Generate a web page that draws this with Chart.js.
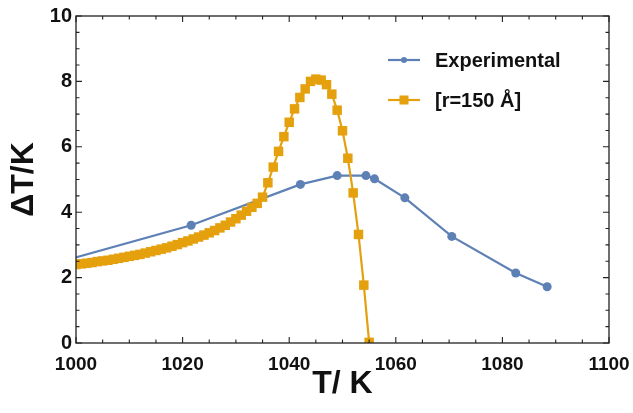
<!DOCTYPE html>
<html>
<head>
<meta charset="utf-8">
<script src="https://cdn.jsdelivr.net/npm/chart.js@4.4.0/dist/chart.umd.min.js"></script>
<style>
  html, body { margin: 0; padding: 0; background: #fff; }
  #wrap { width: 633px; height: 413px; }
</style>
</head>
<body>
<div id="wrap"><canvas id="chartDeltaT" width="633" height="413"></canvas></div>
<script>
// measured points (T in K, deltaT in K)
const expT = [995, 1021.6, 1042.1, 1049.0, 1054.4, 1056.0, 1061.7, 1070.5, 1082.5, 1088.4];
const expDT = [2.39, 3.60, 4.85, 5.12, 5.12, 5.02, 4.44, 3.26, 2.14, 1.72];

// model curve, r = 150 A
const modelT = [1000, 1001, 1002, 1003, 1004, 1005, 1006, 1007, 1008, 1009,
    1010, 1011, 1012, 1013, 1014, 1015, 1016, 1017, 1018, 1019,
    1020, 1021, 1022, 1023, 1024, 1025, 1026, 1027, 1028, 1029,
    1030, 1031, 1032, 1033, 1034, 1035, 1036, 1037, 1038, 1039,
    1040, 1041, 1042, 1043, 1044, 1045, 1046, 1047, 1048, 1049,
    1050, 1051, 1052, 1053, 1054, 1055];
const modelDT = [2.40, 2.42, 2.44, 2.46, 2.49, 2.51, 2.53, 2.56, 2.59, 2.62,
    2.65, 2.68, 2.71, 2.75, 2.79, 2.83, 2.87, 2.91, 2.96, 3.01,
    3.07, 3.12, 3.18, 3.24, 3.30, 3.37, 3.44, 3.52, 3.60, 3.70,
    3.80, 3.91, 4.03, 4.15, 4.27, 4.46, 4.90, 5.38, 5.86, 6.31,
    6.75, 7.16, 7.51, 7.77, 8.00, 8.07, 8.04, 7.90, 7.61, 7.12,
    6.49, 5.65, 4.59, 3.32, 1.77, 0.02];

const seriesNames = ['Experimental', '[r=150 Å]'];
const xTitle = 'T/ K';
const yTitle = 'ΔT/K';

const blue = 'rgb(94,129,181)';
const orange = 'rgb(229,160,13)';
const fontFam = '"Liberation Sans", Arial, sans-serif';

function toPoints(xs, ys) {
    let pts = [];
    for (let i = 0; i < xs.length; i++) {
        pts.push({ x: xs[i], y: ys[i] });
    }
    return pts;
}

// frame, inward ticks on all four sides, and the legend inside the plot
const framePlugin = {
    id: 'frame',
    afterDraw(chart) {
        const ctx = chart.ctx;
        const a = chart.chartArea;
        const xs = chart.scales.x;
        const ys = chart.scales.y;
        ctx.save();
        ctx.strokeStyle = '#222';
        ctx.lineWidth = 1.3;
        ctx.strokeRect(a.left, a.top, a.right - a.left, a.bottom - a.top);

        ctx.lineWidth = 1.1;
        ctx.beginPath();
        xs.ticks.forEach(t => {
            const px = xs.getPixelForValue(t.value);
            const len = t.value % 20 === 0 ? 6 : 3.5;
            ctx.moveTo(px, a.bottom); ctx.lineTo(px, a.bottom - len);
            ctx.moveTo(px, a.top); ctx.lineTo(px, a.top + len);
        });
        ys.ticks.forEach(t => {
            const py = ys.getPixelForValue(t.value);
            const len = Math.abs(t.value % 2) < 1e-9 ? 6 : 3.5;
            ctx.moveTo(a.left, py); ctx.lineTo(a.left + len, py);
            ctx.moveTo(a.right, py); ctx.lineTo(a.right - len, py);
        });
        ctx.stroke();

        // legend
        const lx = 388, ly = 60, gap = 40;
        chart.data.datasets.forEach((ds, i) => {
            const y = ly + i * gap;
            ctx.strokeStyle = ds.borderColor;
            ctx.lineWidth = ds.borderWidth;
            ctx.beginPath();
            ctx.moveTo(lx, y); ctx.lineTo(lx + 32, y);
            ctx.stroke();
            ctx.fillStyle = ds.backgroundColor;
            if (ds.pointStyle === 'rect') {
                ctx.fillRect(lx + 16 - 4.5, y - 4.5, 9, 9);
            } else {
                ctx.beginPath();
                ctx.arc(lx + 16, y, 3, 0, Math.PI * 2);
                ctx.fill();
            }
            ctx.fillStyle = '#111';
            ctx.font = 'bold 20px ' + fontFam;
            ctx.textAlign = 'left';
            ctx.textBaseline = 'middle';
            ctx.fillText(ds.label, lx + 47, y + 1);
        });
        ctx.restore();
    }
};

function initChart() {
    let canvas = document.getElementById('chartDeltaT');
    new Chart(canvas, {
        type: 'scatter',
        data: {
            datasets: [
                {
                    label: seriesNames[0],
                    data: toPoints(expT, expDT),
                    showLine: true,
                    borderColor: blue,
                    backgroundColor: blue,
                    borderWidth: 2.2,
                    pointStyle: 'circle',
                    pointRadius: 4.5,
                    pointBorderWidth: 0,
                    clip: 0,
                    order: 1
                },
                {
                    label: seriesNames[1],
                    data: toPoints(modelT, modelDT),
                    showLine: true,
                    borderColor: orange,
                    backgroundColor: orange,
                    borderWidth: 2.2,
                    pointStyle: 'rect',
                    pointRadius: 6.7,
                    pointBorderWidth: 0,
                    clip: 0,
                    order: 0
                }
            ]
        },
        options: {
            responsive: false,
            animation: false,
            layout: { padding: { top: 15, right: 24, left: 0, bottom: 0 } },
            plugins: {
                legend: { display: false },
                tooltip: { enabled: false }
            },
            scales: {
                x: {
                    type: 'linear',
                    min: 1000,
                    max: 1100,
                    grid: { display: false, drawTicks: false },
                    border: { display: false },
                    afterFit: s => {
                        s.height = 70;
                        s.paddingLeft = 0;
                        s.paddingRight = 0;
                    },
                    ticks: {
                        stepSize: 5,
                        autoSkip: false,
                        maxRotation: 0,
                        padding: 10,
                        color: '#111',
                        font: { family: fontFam, size: 19, weight: 'bold' },
                        callback: v => (v % 20 === 0 ? String(v) : '')
                    },
                    title: {
                        display: true,
                        text: xTitle,
                        color: '#111',
                        font: { family: fontFam, size: 32, weight: 'bold', lineHeight: 1 },
                        padding: { top: 0, bottom: 13 }
                    }
                },
                y: {
                    min: 0,
                    max: 10,
                    grid: { display: false, drawTicks: false },
                    border: { display: false },
                    afterFit: s => { s.width = 76; },
                    ticks: {
                        stepSize: 0.5,
                        autoSkip: false,
                        padding: 4,
                        color: '#111',
                        font: { family: fontFam, size: 20, weight: 'bold' },
                        callback: v => (Math.abs(v % 2) < 1e-9 ? String(v) : '')
                    },
                    title: {
                        display: true,
                        text: yTitle,
                        color: '#111',
                        font: { family: fontFam, size: 32, weight: 'bold', lineHeight: 1 },
                        padding: { top: 8, bottom: 0 }
                    }
                }
            }
        },
        plugins: [framePlugin]
    });
}

window.addEventListener('load', initChart);
</script>
</body>
</html>
